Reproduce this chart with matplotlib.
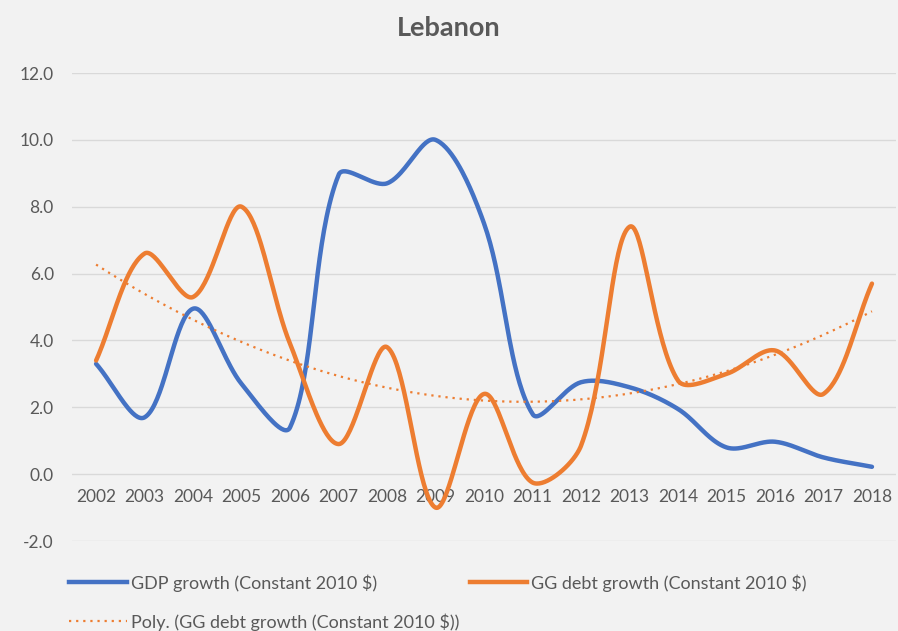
import numpy as np
import matplotlib
matplotlib.use("Agg")
import matplotlib.pyplot as plt
from matplotlib.lines import Line2D

years = ["2002", "2003", "2004", "2005", "2006", "2007", "2008", "2009", "2010",
         "2011", "2012", "2013", "2014", "2015", "2016", "2017", "2018"]
gdp_growth = [3.3, 1.7, 4.95, 2.7, 1.4, 8.95, 8.7, 10.0, 7.5,
              1.8, 2.75, 2.6, 1.95, 0.8, 0.97, 0.5, 0.22]
debt_growth = [3.4, 6.6, 5.3, 8.0, 3.9, 0.9, 3.8, -1.0, 2.4,
               -0.25, 0.85, 7.4, 2.8, 3.0, 3.7, 2.4, 5.7]
yticks = [-2, 0, 2, 4, 6, 8, 10, 12]

BLUE = "#4472C4"
ORANGE = "#ED7D31"
GREY = "#595959"
plt.rcParams["font.family"] = ["Lato", "DejaVu Sans"]


def smooth(x, y, xscale=1.455, n=40):
    # Excel-style smoothed line: bezier with chord-length weighted tangents
    p = np.column_stack([np.asarray(x, float) * xscale, y]).astype(float)
    p = np.vstack([p[0], p, p[-1]])
    out = []
    t = np.linspace(0, 1, n)[:, None]
    for i in range(1, len(p) - 2):
        p0, p1, p2, p3 = p[i - 1], p[i], p[i + 1], p[i + 2]
        d01 = np.linalg.norm(p1 - p0)
        d12 = np.linalg.norm(p2 - p1)
        d23 = np.linalg.norm(p3 - p2)
        w1 = d12 / (d01 + d12) if d01 + d12 > 0 else 0.5
        w2 = d12 / (d12 + d23) if d12 + d23 > 0 else 0.5
        c1 = p1 + (p2 - p0) * w1 / 3
        c2 = p2 - (p3 - p1) * w2 / 3
        seg = ((1 - t) ** 3 * p1 + 3 * (1 - t) ** 2 * t * c1
               + 3 * (1 - t) * t ** 2 * c2 + t ** 3 * p2)
        out.append(seg if i == 1 else seg[1:])
    out = np.vstack(out)
    return out[:, 0] / xscale, out[:, 1]


fig = plt.figure(figsize=(8.98, 6.31), dpi=100, facecolor="#F2F2F2")
ax = fig.add_axes([0.080, 0.1426, 0.918, 0.7417])
ax.set_facecolor("#F2F2F2")

x = np.arange(len(years))
gx, gy = smooth(x, gdp_growth)
dx, dy = smooth(x, debt_growth)
coef = np.polyfit(x, debt_growth, 2)
tx = np.linspace(0, len(years) - 1, 200)

ax.plot(gx, gy, color=BLUE, lw=3.2, solid_capstyle="round", zorder=3)
ax.plot(dx, dy, color=ORANGE, lw=3.2, solid_capstyle="round", zorder=4)
ax.plot(tx, np.polyval(coef, tx), color=ORANGE, lw=1.6, ls=(0, (1, 2.2)), zorder=5)

ax.set_xlim(-0.5, len(years) - 0.5)
ax.set_ylim(-2, 12)
ax.set_yticks(yticks)
ax.set_yticklabels([f"{v:.1f}" for v in yticks])
ax.set_xticks(x)
ax.set_xticklabels(years)
ax.grid(axis="y", color="#D9D9D9", lw=1)
ax.set_axisbelow(True)
for s in ["top", "right", "left"]:
    ax.spines[s].set_visible(False)
ax.spines["bottom"].set_position(("data", 0))
ax.spines["bottom"].set_color("none")
ax.tick_params(axis="x", length=0, pad=11, labelsize=12.5, labelcolor=GREY)
ax.tick_params(axis="y", length=0, pad=13, labelsize=12.5, labelcolor=GREY)

fig.text(0.5, 0.955, "Lebanon", ha="center", va="center",
         fontsize=19.5, fontweight="bold", color=GREY)

entries = [
    (Line2D([], [], color=BLUE, lw=3.2), "GDP growth (Constant 2010 $)", 0.077, 0.076),
    (Line2D([], [], color=ORANGE, lw=3.2), "GG debt growth (Constant 2010 $)", 0.523, 0.076),
    (Line2D([], [], color=ORANGE, lw=1.6, ls=(0, (1, 2.2))),
     "Poly. (GG debt growth (Constant 2010 $))", 0.077, 0.0143),
]
for h, lab, lx, ly in entries:
    fig.legend([h], [lab], loc="center left", bbox_to_anchor=(lx, ly), frameon=False,
               fontsize=13, labelcolor=GREY, handlelength=3.2, handletextpad=0.2,
               borderaxespad=0, borderpad=0)

fig.savefig("out.png", dpi=100, facecolor=fig.get_facecolor())
